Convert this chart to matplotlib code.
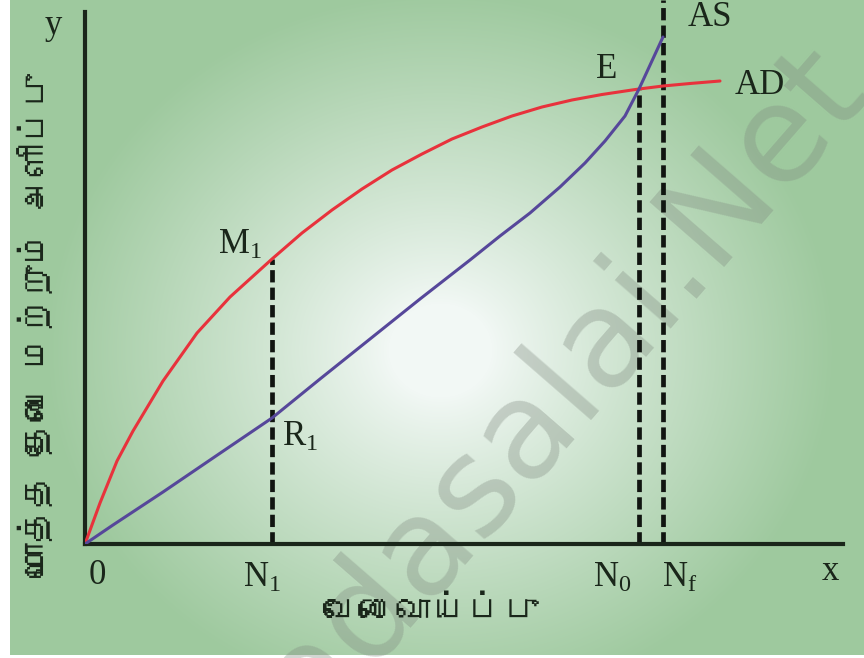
import numpy as np
import matplotlib.pyplot as plt
from matplotlib import font_manager
from matplotlib.ft2font import FT2Font

# AD and AS curves (x = employment, y = total demand / supply)
ad_x = [0, 15, 32, 48, 78, 112, 145, 187, 217, 247, 277, 307, 337, 367, 397,
        427, 457, 487, 517, 547, 554, 578, 605, 635]
ad_y = [0, 41, 83, 113, 163, 211, 247, 285, 311, 334, 355, 374, 390, 405, 417,
        428, 437, 444, 449.5, 454, 455, 458, 460.5, 463]
as_x = [0, 28, 78, 128, 187, 235, 285, 335, 385, 415, 445, 475, 500, 520, 540, 554, 578]
as_y = [0, 19, 52, 86, 126, 165, 205, 245, 284, 308, 331, 357, 381, 403, 428, 455, 507]

# employment levels and the curve heights above them
n1, n0, nf = 187, 554, 578
m1_y, e_y = 285, 455

x_title = "வேலைவாய்ப்பு"
y_title = "மொத்த தேவை மற்றும் அளிப்பு"


def find_tamil_font():
    for f in font_manager.fontManager.ttflist:
        try:
            if 0x0BB5 in FT2Font(f.fname).get_charmap():
                return f.name
        except Exception:
            pass
    return None


tamil = find_tamil_font()
tamil_family = [tamil, 'DejaVu Sans'] if tamil else ['DejaVu Sans']

plt.rcParams['font.family'] = ['Liberation Serif', 'DejaVu Serif']
plt.rcParams['mathtext.default'] = 'regular'

W, H = 864, 658
fig = plt.figure(figsize=(W / 100, H / 100), dpi=100)

# green background with a pale centre
bg = fig.add_axes([0, 0, 1, 1], zorder=-1)
yy, xx = np.mgrid[0:H, 0:W]
d = np.sqrt(((xx - 440) / 430.0) ** 2 + ((yy - 350) / 390.0) ** 2)
t = np.clip((d - 0.12) / 0.8, 0, 1) ** 0.9
centre = np.array([242, 248, 245]) / 255
edge = np.array([158, 201, 158]) / 255
img = centre + (edge - centre) * t[..., None]
img[:, :10] = 1.0
img[H - 3:, :] = 1.0
bg.imshow(img, extent=[0, W, H, 0], aspect='auto')
bg.set_xlim(0, W)
bg.set_ylim(H, 0)
bg.axis('off')

# watermark
bg.text(565, 435, "Padasalai.Net", fontsize=98, family='DejaVu Sans',
        color='#808a80', alpha=0.35, rotation=49, rotation_mode='anchor',
        ha='center', va='baseline')

ax = fig.add_axes([85 / W, (H - 544) / H, 779 / W, 544 / H])
ax.patch.set_visible(False)
ax.set_xlim(0, 779)
ax.set_ylim(0, 544)

ink = '#1a261a'
ax.plot(ad_x, ad_y, color='#e8323c', lw=2.2, solid_capstyle='round', zorder=3)
ax.plot(as_x, as_y, color='#56479a', lw=2.2, solid_capstyle='round', zorder=3)

dash = dict(color='#111511', lw=3.4, dashes=(2.6, 1.1), zorder=2)
ax.plot([n1, n1], [0, m1_y], **dash)
ax.plot([n0, n0], [0, e_y], **dash)
ax.plot([nf, nf], [0, 544], clip_on=False, **dash)

for side in ['top', 'right']:
    ax.spines[side].set_visible(False)
ax.spines['left'].set_bounds(0, 532)
ax.spines['bottom'].set_bounds(0, 758)
for side in ['left', 'bottom']:
    ax.spines[side].set_linewidth(3.0)
    ax.spines[side].set_color(ink)
ax.set_xticks([])
ax.set_yticks([])

fs = 25
lab = dict(fontsize=fs, color=ink, ha='center', va='center')
ax.text(-32, 519, 'y', **lab)
ax.text(745, -28, 'x', **lab)
ax.text(12, -31, '0', **lab)
ax.text(177, -34, r'$N_1$', **lab)
ax.text(527, -34, r'$N_0$', **lab)
ax.text(595, -34, r'$N_f$', **lab)
ax.text(155, 299, r'$M_1$', **lab)
ax.text(215, 107, r'$R_1$', **lab)
ax.text(522, 474, 'E', **lab)
ax.text(625, 526, 'AS', **lab)
ax.text(675, 459, 'AD', **lab)

ax.text(345, -68, x_title, family=tamil_family, fontsize=26, color=ink,
        ha='center', va='center')
ax.text(-50, 219, y_title, family=tamil_family, fontsize=25, color=ink,
        ha='center', va='center', rotation=90)

fig.savefig('out.png', dpi=100)
